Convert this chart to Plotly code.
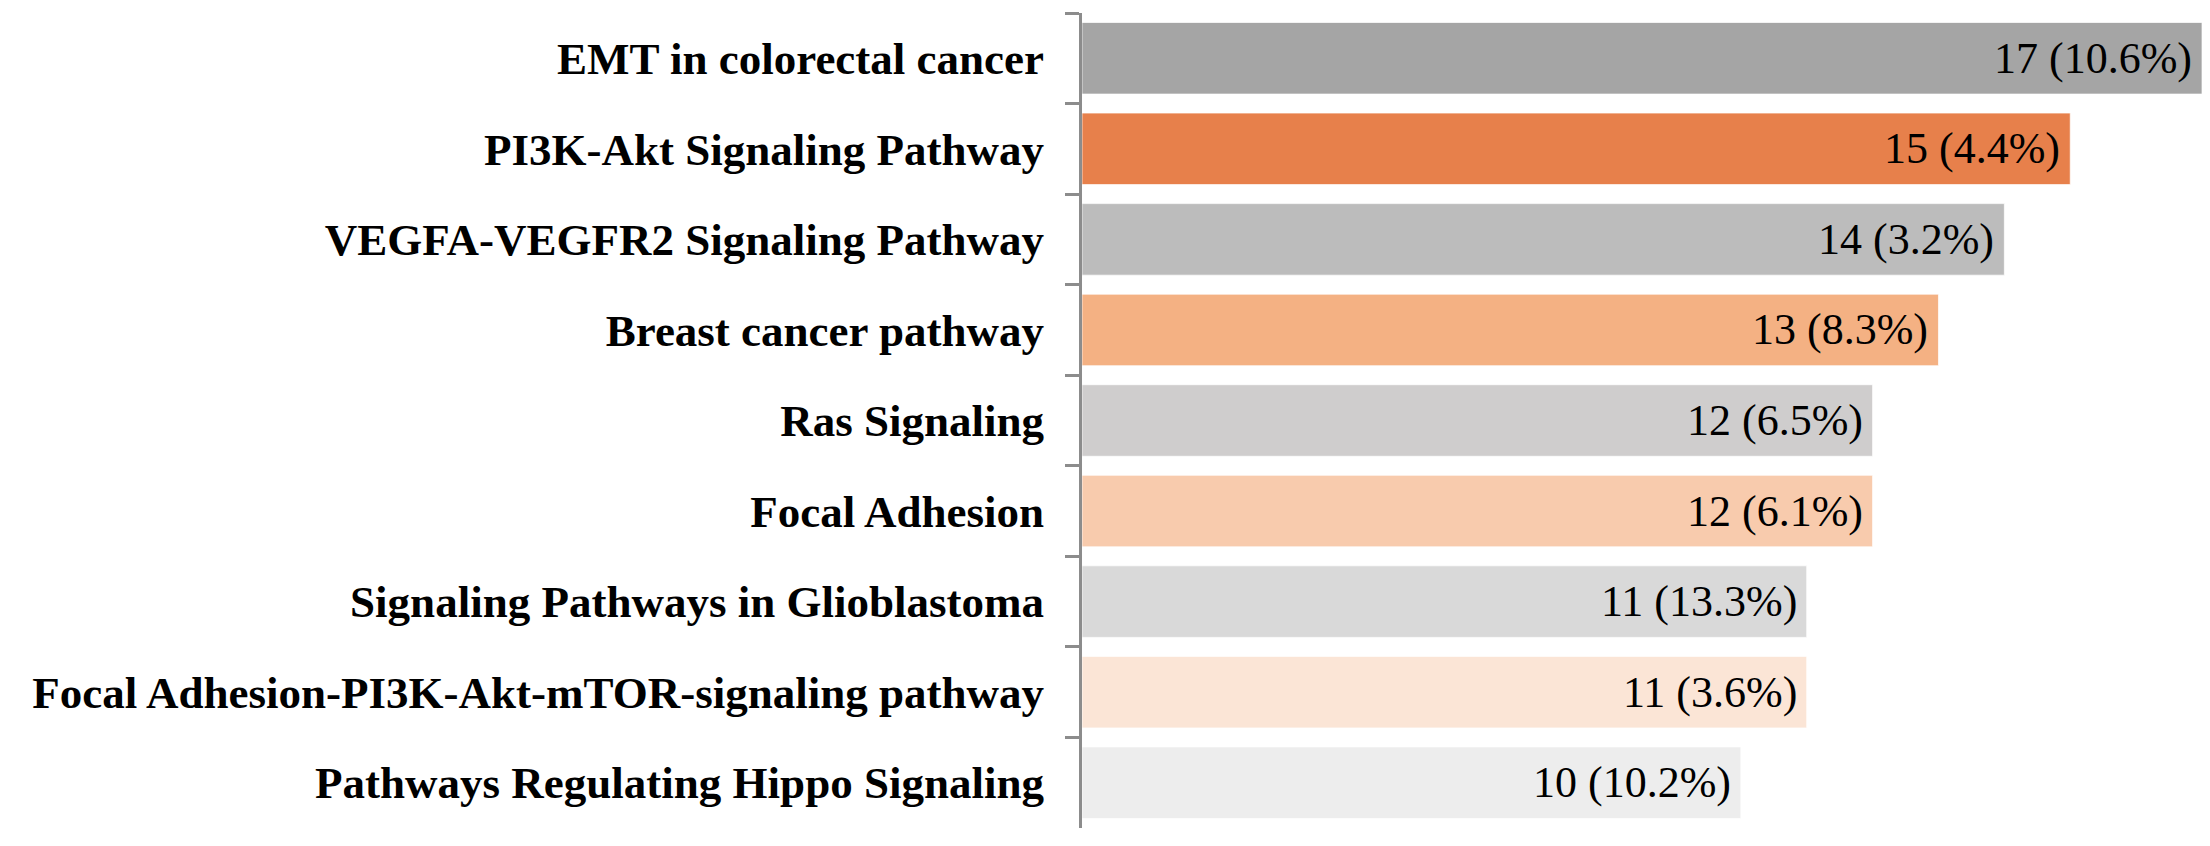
import plotly.graph_objects as go

categories = [
    "EMT in colorectal cancer",
    "PI3K-Akt Signaling Pathway",
    "VEGFA-VEGFR2 Signaling Pathway",
    "Breast cancer pathway",
    "Ras Signaling",
    "Focal Adhesion",
    "Signaling Pathways in Glioblastoma",
    "Focal Adhesion-PI3K-Akt-mTOR-signaling pathway",
    "Pathways Regulating Hippo Signaling",
]
counts = [17, 15, 14, 13, 12, 12, 11, 11, 10]
percents = ["10.6%", "4.4%", "3.2%", "8.3%", "6.5%", "6.1%", "13.3%", "3.6%", "10.2%"]
colors = ["#A5A5A5", "#E7804B", "#BCBCBC", "#F4B183", "#CFCDCD",
          "#F8CBAD", "#D9D9D9", "#FBE5D6", "#EDEDED"]

labels = [f"{c} ({p})" for c, p in zip(counts, percents)]

fig = go.Figure()
fig.add_trace(go.Bar(
    x=counts, y=categories, orientation="h",
    marker=dict(color=colors, line=dict(color="rgba(255,255,255,0.7)", width=1)),
    hoverinfo="skip",
))

for c, cat, lab in zip(counts, categories, labels):
    fig.add_annotation(x=c, y=cat, text=lab, showarrow=False,
                       xanchor="right", xshift=-8,
                       font=dict(family="Liberation Serif", size=44, color="#000000"))

fig.update_layout(
    width=2210, height=846,
    margin=dict(l=1082, r=8, t=13, b=18),
    paper_bgcolor="white", plot_bgcolor="white",
    bargap=0.21, showlegend=False,
    font=dict(family="Liberation Serif", color="#000000"),
)
fig.update_xaxes(range=[0, 17], visible=False, showgrid=False, zeroline=False)
fig.update_yaxes(
    autorange="reversed", showgrid=False, zeroline=False, automargin=False,
    showline=True, linecolor="#8C8C8C", linewidth=3,
    ticks="outside", tickson="boundaries", ticklen=14, tickwidth=3, tickcolor="#8C8C8C",
    tickfont=dict(family="Liberation Serif", size=45, color="#000000", weight="bold"),
    ticklabelstandoff=26,
)

fig.write_html("out.html", config={"displayModeBar": False},
               post_script="document.body.style.margin='0';document.body.style.overflow='hidden';")
